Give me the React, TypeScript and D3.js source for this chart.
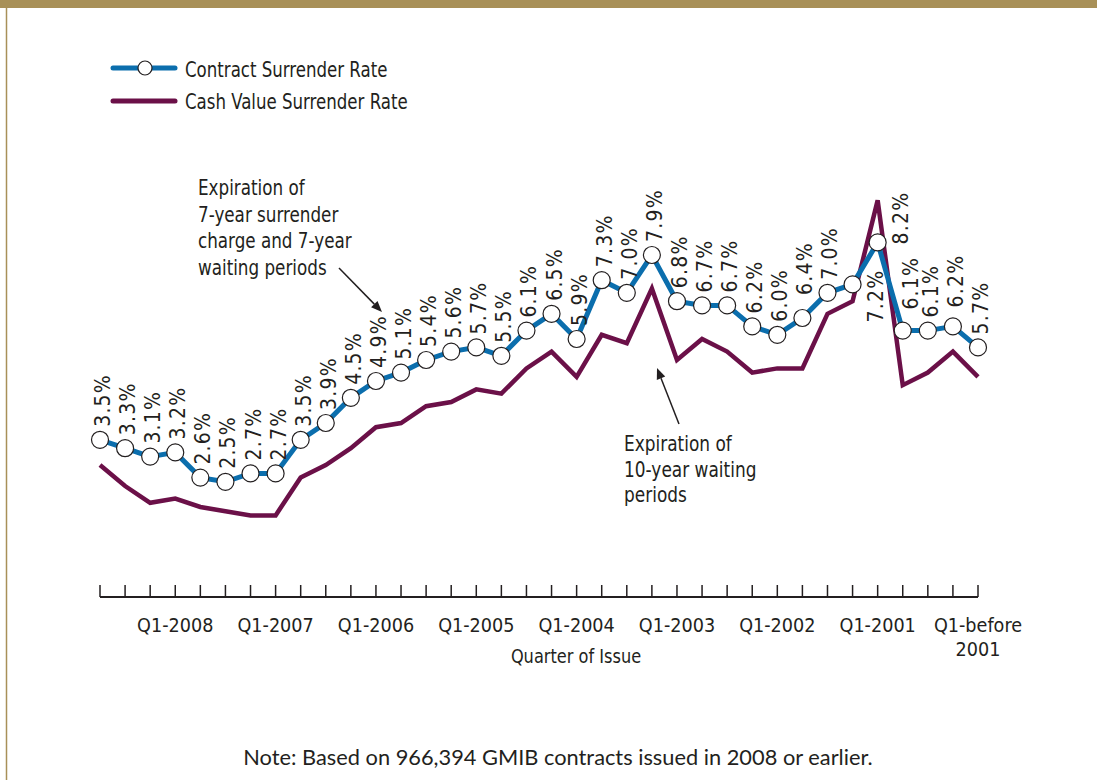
import React from "react";
import * as d3 from "d3";

const quarters = [
  "Q4-2008", "Q3-2008", "Q2-2008", "Q1-2008",
  "Q4-2007", "Q3-2007", "Q2-2007", "Q1-2007",
  "Q4-2006", "Q3-2006", "Q2-2006", "Q1-2006",
  "Q4-2005", "Q3-2005", "Q2-2005", "Q1-2005",
  "Q4-2004", "Q3-2004", "Q2-2004", "Q1-2004",
  "Q4-2003", "Q3-2003", "Q2-2003", "Q1-2003",
  "Q4-2002", "Q3-2002", "Q2-2002", "Q1-2002",
  "Q4-2001", "Q3-2001", "Q2-2001", "Q1-2001",
  "Q4-2000", "Q3-2000", "Q2-2000", "Q1-before 2001",
];

const contractRate = [
  3.5, 3.3, 3.1, 3.2, 2.6, 2.5, 2.7, 2.7,
  3.5, 3.9, 4.5, 4.9, 5.1, 5.4, 5.6, 5.7,
  5.5, 6.1, 6.5, 5.9, 7.3, 7.0, 7.9, 6.8,
  6.7, 6.7, 6.2, 6.0, 6.4, 7.0, 7.2, 8.2,
  6.1, 6.1, 6.2, 5.7,
];

const cashValueRate = [
  2.9, 2.4, 2.0, 2.1, 1.9, 1.8, 1.7, 1.7,
  2.6, 2.9, 3.3, 3.8, 3.9, 4.3, 4.4, 4.7,
  4.6, 5.2, 5.6, 5.0, 6.0, 5.8, 7.1, 5.4,
  5.9, 5.6, 5.1, 5.2, 5.2, 6.5, 6.8, 9.2,
  4.8, 5.1, 5.6, 5.0,
];

const tickLabels = [
  "Q1-2008", "Q1-2007", "Q1-2006", "Q1-2005", "Q1-2004",
  "Q1-2003", "Q1-2002", "Q1-2001", "Q1-before 2001",
];

const legendLabels = ["Contract Surrender Rate", "Cash Value Surrender Rate"];
const annotation1 = ["Expiration of", "7-year surrender", "charge and 7-year", "waiting periods"];
const annotation2 = ["Expiration of", "10-year waiting", "periods"];
const axisTitle = "Quarter of Issue";
const noteText = "Note: Based on 966,394 GMIB contracts issued in 2008 or earlier.";

// label nudges (style)
const labelNudge: Record<number, [number, number]> = {
  28: [0, -10],
  30: [20, 51],
  31: [20, 15],
  32: [5, -8],
  34: [0, -6],
};

const BLUE = "#0b6ead";
const PURPLE = "#6b1048";
const GOLD = "#a89058";
const TEXT = "#231f20";
const COND = "'DejaVu Sans Condensed', 'DejaVu Sans', sans-serif";
const NORMAL = "Lato, 'Open Sans', sans-serif";

function SText(props: {
  x: number; y: number; sx: number; size: number; anchor?: string;
  children: React.ReactNode; rotate?: number; spacing?: number;
}) {
  const { x, y, sx, size, anchor, children, rotate, spacing } = props;
  return (
    <g transform={`translate(${x},${y})${rotate ? ` rotate(${rotate})` : ""} scale(${sx},1)`}>
      <text
        x={0}
        y={0}
        fontFamily={COND}
        fontSize={size}
        fill={TEXT}
        textAnchor={anchor || "start"}
        letterSpacing={spacing || 0}
      >
        {children}
      </text>
    </g>
  );
}

export default function App() {
  const W = 1097;
  const H = 780;
  const x = d3.scalePoint<string>().domain(quarters).range([100, 978]);
  const y = d3.scaleLinear().domain([0, 10]).range([586.8, 166.8]);
  const axisY = 597;

  const seriesLine = d3
    .line<number>()
    .x((_, i) => x(quarters[i])!)
    .y((d) => y(d));

  const arrow = (x1: number, y1: number, x2: number, y2: number) => {
    const a = Math.atan2(y2 - y1, x2 - x1);
    const L = 11, Wd = 4.5;
    const bx = x2 - L * Math.cos(a), by = y2 - L * Math.sin(a);
    const p1 = [bx + Wd * Math.sin(a), by - Wd * Math.cos(a)];
    const p2 = [bx - Wd * Math.sin(a), by + Wd * Math.cos(a)];
    return (
      <g>
        <line x1={x1} y1={y1} x2={bx} y2={by} stroke={TEXT} strokeWidth={1.5} />
        <polygon points={`${x2},${y2} ${p1[0]},${p1[1]} ${p2[0]},${p2[1]}`} fill={TEXT} />
      </g>
    );
  };

  return (
    <svg
      width={W}
      height={H}
      style={{ position: "absolute", left: 0, top: 0, background: "#fff" }}
    >
      {/* frame */}
      <rect x={0} y={0} width={W} height={8} fill={GOLD} />
      <line x1={6.5} y1={0} x2={6.5} y2={H} stroke={GOLD} strokeWidth={1.5} />

      {/* legend */}
      <line x1={113} y1={68} x2={175} y2={68} stroke={BLUE} strokeWidth={5} strokeLinecap="round" />
      <circle cx={145} cy={68} r={7} fill="#fff" stroke={TEXT} strokeWidth={1.2} />
      <SText x={185} y={77} sx={0.88} size={21}>{legendLabels[0]}</SText>
      <line x1={113} y1={101} x2={175} y2={101} stroke={PURPLE} strokeWidth={5} strokeLinecap="round" />
      <SText x={185} y={109} sx={0.88} size={21}>{legendLabels[1]}</SText>

      {/* axis */}
      <line x1={100} y1={axisY} x2={978} y2={axisY} stroke={TEXT} strokeWidth={2} />
      {quarters.map((q) => (
        <line key={q} x1={x(q)} x2={x(q)} y1={axisY} y2={axisY - 12} stroke={TEXT} strokeWidth={1.5} />
      ))}
      {tickLabels.map((t) => {
        const parts = t === "Q1-before 2001" ? ["Q1-before", "2001"] : [t];
        return (
          <g key={t}>
            {parts.map((p, j) => (
              <SText key={j} x={x(t)!} y={632 + j * 24} sx={0.98} size={20} anchor="middle">
                {p}
              </SText>
            ))}
          </g>
        );
      })}
      <SText x={576} y={663} sx={0.9} size={20} anchor="middle">{axisTitle}</SText>

      {/* lines */}
      <path d={seriesLine(cashValueRate)!} fill="none" stroke={PURPLE} strokeWidth={4.5} />
      <path d={seriesLine(contractRate)!} fill="none" stroke={BLUE} strokeWidth={5} />
      {contractRate.map((v, i) => (
        <circle key={i} cx={x(quarters[i])!} cy={y(v)} r={8.5} fill="#fff" stroke={TEXT} strokeWidth={1.2} />
      ))}

      {/* value labels */}
      {contractRate.map((v, i) => {
        const [dx, dy] = labelNudge[i] || [0, 0];
        const lx = x(quarters[i])! + 10 + dx;
        const ly = y(v) - 13 + dy;
        return (
          <SText key={i} x={lx} y={ly} sx={1} size={21} rotate={-90} spacing={1.2}>
            {v.toFixed(1)}%
          </SText>
        );
      })}

      {/* annotations */}
      {annotation1.map((l, i) => (
        <SText key={i} x={198} y={195 + i * 26.5} sx={0.91} size={20.5}>{l}</SText>
      ))}
      {annotation2.map((l, i) => (
        <SText key={i} x={624} y={451 + i * 25.5} sx={0.92} size={20.5}>{l}</SText>
      ))}
      {arrow(339, 268, 382, 312)}
      {arrow(679, 424, 657, 368)}

      {/* note */}
      <text x={558} y={765} fontFamily={NORMAL} fontSize={21.8} fill={TEXT} textAnchor="middle">
        {noteText}
      </text>
    </svg>
  );
}
